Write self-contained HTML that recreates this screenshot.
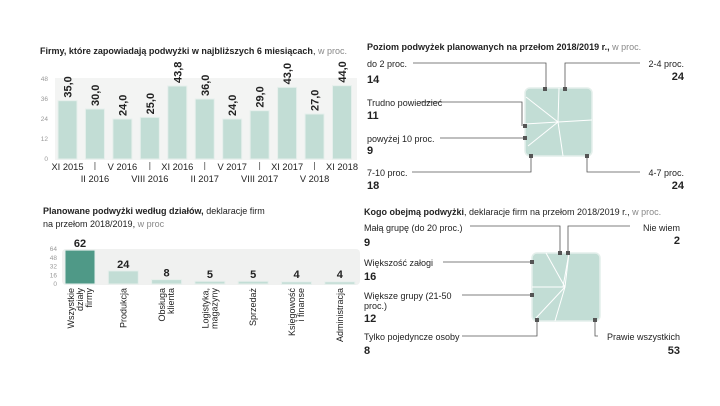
<!DOCTYPE html>
<html><head><meta charset="utf-8">
<style>
body{margin:0;background:#fff;}
svg{display:block;font-family:"Liberation Sans","DejaVu Sans",sans-serif;}
.t{font-size:9px;fill:#222;}
.b{font-weight:bold;}
.g{fill:#888;}
.ax{font-size:6.5px;fill:#999;}
.lab{font-size:9px;fill:#222;}
.num{font-size:11px;font-weight:bold;fill:#222;}
</style></head>
<body>
<svg id="svg" width="720" height="406" viewBox="0 0 720 406">
<rect width="720" height="406" fill="#fff"/>
<!-- Chart 1 -->
<text x="40" y="54" class="t"><tspan class="b">Firmy, które zapowiadają podwyżki w najbliższych 6 miesiącach</tspan>, <tspan class="g">w proc.</tspan></text>
<g id="c1"></g>
<!-- Chart 2 -->
<text x="43" y="214" class="t"><tspan class="b">Planowane podwyżki według działów,</tspan> deklaracje firm</text>
<text x="43" y="227" class="t">na przełom 2018/2019, <tspan class="g">w proc</tspan></text>
<g id="c2"></g>
<!-- Chart 3 -->
<text x="367" y="50" class="t"><tspan class="b">Poziom podwyżek planowanych na przełom 2018/2019 r.,</tspan> <tspan class="g">w proc.</tspan></text>
<g>
<rect x="525" y="88" width="67" height="68" rx="5" fill="#c2ddd5" stroke="#e4efeb" stroke-width="1.5"/>
<g stroke="#fff" stroke-width="1" fill="none">
<line x1="558" y1="122" x2="559" y2="88"/><line x1="558" y1="122" x2="526" y2="97"/>
<line x1="558" y1="122" x2="525" y2="124"/><line x1="558" y1="122" x2="528" y2="146"/>
<line x1="558" y1="122" x2="592" y2="120"/><line x1="558" y1="122" x2="563" y2="156"/>
</g>
<g stroke="#555" stroke-width="0.8" fill="none">
<polyline points="413,63 546,63 546,89"/><polyline points="640,63 565,63 565,89"/>
<polyline points="420,102 522,102 522,126"/><polyline points="440,138 524,138"/>
<polyline points="412,172 531,172 531,156"/><polyline points="640,172 587,172 587,156"/>
</g>
<g fill="#555"><rect x="543" y="87" width="4" height="4"/><rect x="563" y="87" width="4" height="4"/><rect x="523" y="124" width="4" height="4"/><rect x="523" y="136" width="4" height="4"/><rect x="529" y="154" width="4" height="4"/><rect x="585" y="154" width="4" height="4"/></g>
<text x="367" y="67" class="lab">do 2 proc.</text><text x="367" y="83" class="num">14</text>
<text x="684" y="67" class="lab" text-anchor="end">2-4 proc.</text><text x="684" y="80" class="num" text-anchor="end">24</text>
<text x="367" y="106" class="lab">Trudno powiedzieć</text><text x="367" y="119" class="num">11</text>
<text x="367" y="142" class="lab">powyżej 10 proc.</text><text x="367" y="154" class="num">9</text>
<text x="367" y="176" class="lab">7-10 proc.</text><text x="367" y="189" class="num">18</text>
<text x="684" y="176" class="lab" text-anchor="end">4-7 proc.</text><text x="684" y="189" class="num" text-anchor="end">24</text>
</g>
<!-- Chart 4 -->
<text x="364" y="215" class="t"><tspan class="b">Kogo obejmą podwyżki</tspan>, deklaracje firm na przełom 2018/2019 r., <tspan class="g">w proc.</tspan></text>
<g>
<rect x="532" y="253" width="68" height="68" rx="5" fill="#c2ddd5" stroke="#e4efeb" stroke-width="1.5"/>
<g stroke="#fff" stroke-width="1" fill="none">
<line x1="565" y1="287" x2="546" y2="253"/><line x1="565" y1="287" x2="569" y2="253"/>
<line x1="565" y1="287" x2="532" y2="287"/><line x1="565" y1="287" x2="536" y2="318"/>
<line x1="565" y1="287" x2="555" y2="321"/><line x1="569" y1="253" x2="563" y2="287"/>
</g>
<g stroke="#555" stroke-width="0.8" fill="none">
<polyline points="470,226 560,226 560,253"/><polyline points="630,226 568,226 568,253"/>
<polyline points="443,262 532,262"/><polyline points="462,295 532,295"/>
<polyline points="462,336 537,336 537,320"/><polyline points="598,336 595,336 595,320"/>
</g>
<g fill="#555"><rect x="558" y="251" width="4" height="4"/><rect x="566" y="251" width="4" height="4"/><rect x="530" y="260" width="4" height="4"/><rect x="530" y="293" width="4" height="4"/><rect x="535" y="318" width="4" height="4"/><rect x="593" y="318" width="4" height="4"/></g>
<text x="364" y="231" class="lab">Małą grupę (do 20 proc.)</text><text x="364" y="246" class="num">9</text>
<text x="680" y="231" class="lab" text-anchor="end">Nie wiem</text><text x="680" y="244" class="num" text-anchor="end">2</text>
<text x="364" y="266" class="lab">Większość załogi</text><text x="364" y="280" class="num">16</text>
<text x="364" y="299" class="lab">Większe grupy (21-50</text><text x="364" y="309" class="lab">proc.)</text><text x="364" y="322" class="num">12</text>
<text x="364" y="340" class="lab">Tylko pojedyncze osoby</text><text x="364" y="354" class="num">8</text>
<text x="680" y="340" class="lab" text-anchor="end">Prawie wszystkich</text><text x="680" y="354" class="num" text-anchor="end">53</text>
</g>
</svg>
<script>
const c1Cats=["XI 2015","II 2016","V 2016","VIII 2016","XI 2016","II 2017","V 2017","VIII 2017","XI 2017","V 2018","XI 2018"];
const c1Vals=[35.0,30.0,24.0,25.0,43.8,36.0,24.0,29.0,43.0,27.0,44.0];
const c1Ticks=[0,12,24,36,48];
const c2Cats=[["Wszystkie","działy","firmy"],["Produkcja"],["Obsługa","klienta"],["Logistyka,","magazyny"],["Sprzedaż"],["Księgowość","i finanse"],["Administracja"]];
const c2Vals=[62,24,8,5,5,4,4];
const c2Ticks=[0,16,32,48,64];
const NS="http://www.w3.org/2000/svg";
function mk(p,tag,a,txt){const e=document.createElementNS(NS,tag);for(const k in a)e.setAttribute(k,a[k]);if(txt!==undefined)e.textContent=txt;p.appendChild(e);return e;}
(function(){
const g=document.getElementById('c1');
const y=v=>159-v*80/48, x=i=>67.5+i*27.45;
const bg=mk(g,'rect',{x:55,y:78,width:302,height:82,fill:'#f3f4f3'});


c1Ticks.forEach(t=>{const e=mk(g,'text',{x:48,y:y(t)+2,class:'ax','text-anchor':'end'},String(t));

});
c1Vals.forEach((v,i)=>{
const r=mk(g,'rect',{x:x(i)-9.5,y:y(v),width:19,height:159-y(v),fill:'#c2ddd5',stroke:'#e6efec','stroke-width':1});


const tx=x(i)+4,ty=y(v)-3;
const t=mk(g,'text',{x:tx,y:ty,transform:`rotate(-90 ${tx} ${ty})`,'font-size':'11','font-weight':'bold',fill:'#222'},v.toFixed(1).replace('.',','));


const l=mk(g,'text',{x:x(i),y:i%2==0?170:182,'font-size':'9.3',fill:'#222','text-anchor':'middle'},c1Cats[i]);


if(i%2==1){mk(g,'line',{x1:x(i),x2:x(i),y1:162,y2:170,stroke:'#555','stroke-width':0.8});}
});
})();
(function(){
const g=document.getElementById('c2');
const y=v=>284-v*35/64, x=i=>80+i*43.3;
const bg=mk(g,'rect',{x:62,y:249,width:298,height:36,rx:4,fill:'#f0f1f0'});


c2Ticks.forEach(t=>{const e=mk(g,'text',{x:57,y:y(t)+2,class:'ax','text-anchor':'end'},String(t));

});
c2Vals.forEach((v,i)=>{
const r=mk(g,'rect',{x:x(i)-15,y:Math.min(y(v),282),width:30,height:Math.max(284-y(v),2.5),fill:i==0?'#4f9987':'#c2ddd5',stroke:'#e6efec','stroke-width':1});


const t=mk(g,'text',{x:x(i),y:Math.min(y(v),281)-3,'font-size':'11','font-weight':'bold',fill:'#222','text-anchor':'middle'},String(v));


const lines=c2Cats[i],n=lines.length;
lines.forEach((s,j)=>{const lx=x(i)+3+(j-(n-1)/2)*9,ly=288;
const l=mk(g,'text',{x:lx,y:ly,transform:`rotate(-90 ${lx} ${ly})`,'font-size':'9','fill':'#222','text-anchor':'end'},s);

});
});
})();
</script>
</body></html>
